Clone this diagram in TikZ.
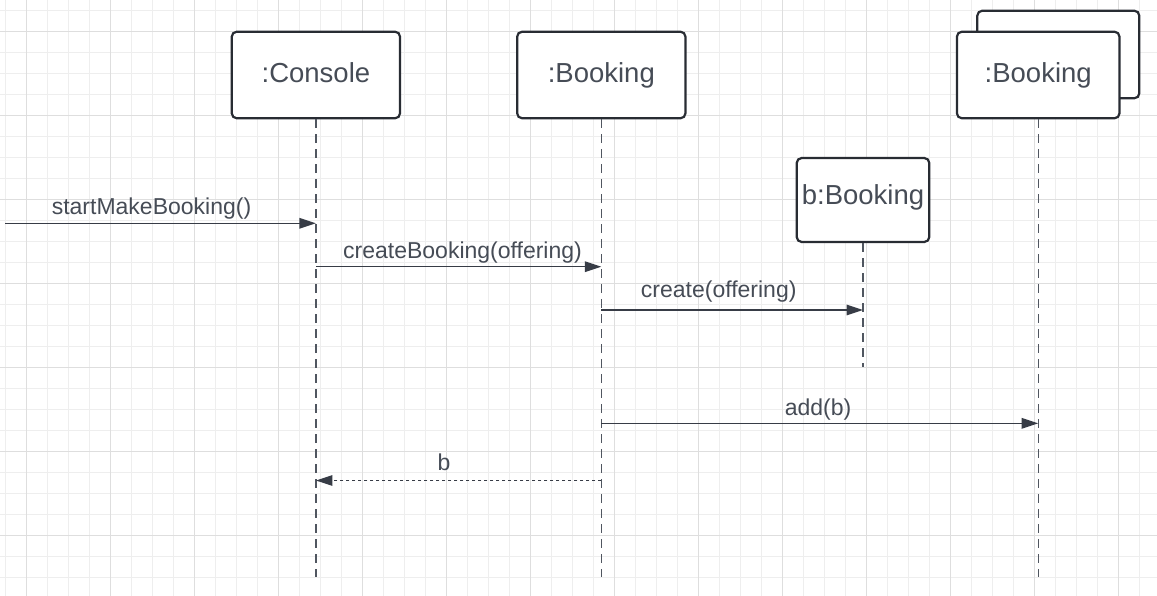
\documentclass[tikz,border=0pt]{standalone}
\usepackage{fontspec}
\setmainfont{Liberation Sans}
\usetikzlibrary{arrows.meta}
\definecolor{txt}{RGB}{70,76,86}
\definecolor{edge}{RGB}{40,44,51}
\definecolor{msgc}{RGB}{55,60,70}
\definecolor{lifec}{RGB}{80,86,96}
\definecolor{gmin}{RGB}{238,238,238}
\definecolor{gmaj}{RGB}{222,222,222}
\tikzset{
 objbox/.style={draw=edge, line width=2.2pt, rounded corners=5pt, fill=white, text=txt,
   font=\fontsize{27.5}{30}\selectfont, text height=20pt, text depth=5pt, inner sep=0pt},
 lifeline/.style={draw=lifec, line width=1.3pt, dash pattern=on 9pt off 6pt},
 msg/.style={draw=msgc, line width=1.5pt, -{Triangle[length=16.5pt,width=10.5pt]}},
 ret/.style={msg, dash pattern=on 3pt off 3pt},
 msglabel/.style={text=txt, font=\fontsize{23}{26}\selectfont, anchor=base, inner sep=0pt},
 gridminor/.style={draw=gmin, line width=1pt},
 gridmajor/.style={draw=gmaj, line width=1.2pt},
}
\begin{document}
\begin{tikzpicture}[x=1pt,y=-1pt]
\useasboundingbox (0,0) rectangle (1157,596);
\fill[white] (0,0) rectangle (1157,596);
\begin{scope}
\clip (0,0) rectangle (1157,596);
\foreach \i in {0,...,55} \draw[gridminor] ({5.7+21*\i},0) -- ({5.7+21*\i},596);
\foreach \j in {0,...,28} \draw[gridminor] (0,{10.3+21*\j}) -- (1157,{10.3+21*\j});
\foreach \i in {0,...,13} \draw[gridmajor] ({26.7+84*\i},0) -- ({26.7+84*\i},596);
\foreach \j in {0,...,6} \draw[gridmajor] (0,{31.3+84*\j}) -- (1157,{31.3+84*\j});
\end{scope}

% objects
\node[objbox, minimum width=168.3pt, minimum height=86.6pt] (console) at (315.9,75) {:Console};
\node[objbox, minimum width=168.3pt, minimum height=86.6pt] (booking) at (601.3,75) {:Booking};
\node[objbox, minimum width=162pt, minimum height=87.6pt] (multiback) at (1058.3,54.5) {};
\node[objbox, minimum width=162.6pt, minimum height=86.6pt] (multi) at (1038.2,75) {:Booking};
\node[objbox, minimum width=132.6pt, minimum height=84pt, text depth=10pt] (bobj) at (863,200) {b:Booking};

% lifelines
\coordinate (bottom) at (0,577);
\coordinate (bend) at (0,367);
\draw[lifeline] (console.south) -- (console.south |- bottom);
\draw[lifeline] (booking.south) -- (booking.south |- bottom);
\draw[lifeline] (multi.south) -- (multi.south |- bottom);
\draw[lifeline] (bobj.south) -- (bobj.south |- bend);

% messages
\coordinate (src) at (5,223.3);
\draw[msg] (src) -- (console.south |- src);
\node[msglabel] (l1) at (151.5,215) {startMakeBooking()};

\coordinate (y2) at (0,266.7);
\draw[msg] (console.south |- y2) -- (booking.south |- y2);
\node[msglabel] (l2) at (462.5,258.3) {createBooking(offering)};

\coordinate (y3) at (0,310);
\draw[msg] (booking.south |- y3) -- (bobj.south |- y3);
\node[msglabel] (l3) at (718.7,297.7) {create(offering)};

\coordinate (y4) at (0,423.3);
\draw[msg] (booking.south |- y4) -- (multi.south |- y4);
\node[msglabel] (l4) at (818,415) {add(b)};

\coordinate (y5) at (0,480.5);
\draw[ret] (booking.south |- y5) -- (console.south |- y5);
\node[msglabel] (l5) at (444,470) {b};
\end{tikzpicture}
\end{document}
